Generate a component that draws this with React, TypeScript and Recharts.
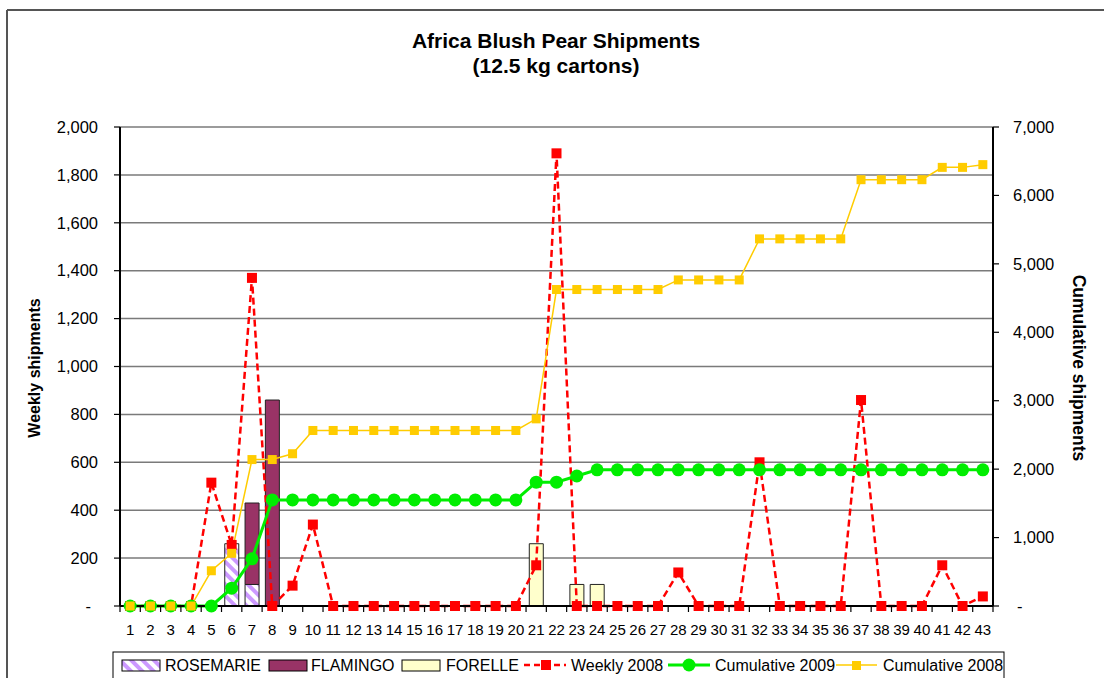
import { Bar, CartesianGrid, ComposedChart, Line, XAxis, YAxis } from 'recharts'

const weeks = [
  '1', '2', '3', '4', '5', '6', '7', '8', '9', '10', '11', '12', '13', '14', '15',
  '16', '17', '18', '19', '20', '21', '22', '23', '24', '25', '26', '27', '28', '29',
  '30', '31', '32', '33', '34', '35', '36', '37', '38', '39', '40', '41', '42', '43',
]

// weekly cartons by variety (2009)
const rosemarie = [0, 0, 0, 0, 0, 260, 90, 0, 0, 0, 0, 0, 0, 0, 0, 0, 0, 0, 0, 0, 0, 0, 0, 0, 0, 0, 0, 0, 0, 0, 0, 0, 0, 0, 0, 0, 0, 0, 0, 0, 0, 0, 0]
const flamingo = [0, 0, 0, 0, 0, 0, 340, 860, 0, 0, 0, 0, 0, 0, 0, 0, 0, 0, 0, 0, 0, 0, 0, 0, 0, 0, 0, 0, 0, 0, 0, 0, 0, 0, 0, 0, 0, 0, 0, 0, 0, 0, 0]
const forelle = [0, 0, 0, 0, 0, 0, 0, 0, 0, 0, 0, 0, 0, 0, 0, 0, 0, 0, 0, 0, 260, 0, 90, 90, 0, 0, 0, 0, 0, 0, 0, 0, 0, 0, 0, 0, 0, 0, 0, 0, 0, 0, 0]

const weekly2008 = [0, 0, 0, 0, 515, 255, 1370, 0, 85, 340, 0, 0, 0, 0, 0, 0, 0, 0, 0, 0, 170, 1890, 0, 0, 0, 0, 0, 140, 0, 0, 0, 600, 0, 0, 0, 0, 860, 0, 0, 0, 170, 0, 40]
const cumulative2009 = [0, 0, 0, 0, 0, 260, 690, 1550, 1550, 1550, 1550, 1550, 1550, 1550, 1550, 1550, 1550, 1550, 1550, 1550, 1810, 1810, 1900, 1990, 1990, 1990, 1990, 1990, 1990, 1990, 1990, 1990, 1990, 1990, 1990, 1990, 1990, 1990, 1990, 1990, 1990, 1990, 1990]
const cumulative2008 = [0, 0, 0, 0, 515, 770, 2140, 2140, 2225, 2565, 2565, 2565, 2565, 2565, 2565, 2565, 2565, 2565, 2565, 2565, 2735, 4625, 4625, 4625, 4625, 4625, 4625, 4765, 4765, 4765, 4765, 5365, 5365, 5365, 5365, 5365, 6230, 6230, 6230, 6230, 6410, 6410, 6450]

const leftTicks = [0, 200, 400, 600, 800, 1000, 1200, 1400, 1600, 1800, 2000]
const rightTicks = [0, 1000, 2000, 3000, 4000, 5000, 6000, 7000]

const data = weeks.map((w, i) => ({
  week: w,
  rosemarie: rosemarie[i],
  flamingo: flamingo[i],
  forelle: forelle[i],
  weekly2008: weekly2008[i],
  cum2009: cumulative2009[i],
  cum2008: cumulative2008[i],
}))

const FONT = "'Liberation Sans', Arial, sans-serif"
const RED = '#ff0000'
const GREEN = '#00ee00'
const GOLD = '#ffcc00'
const PLUM = '#993366'
const CREAM = '#ffffcc'
const STEP = (993 - 120) / 43

const fmt = (v: number) => (v === 0 ? '-' : v.toLocaleString('en-US'))

function LeftTick(props: any) {
  const { x, y, payload } = props
  const v = payload.value
  return (
    <text x={v === 0 ? x - 7 : x} y={y} dy="0.35em" textAnchor="end" fontSize={16.5} fontFamily={FONT} fill="#000">
      {fmt(v)}
    </text>
  )
}

function RightTick(props: any) {
  const { x, y, payload } = props
  const v = payload.value
  return (
    <text x={v === 0 ? x + 4 : x} y={y} dy="0.35em" textAnchor="start" fontSize={16.5} fontFamily={FONT} fill="#000">
      {fmt(v)}
    </text>
  )
}

function WeekTick(props: any) {
  const { x, y, payload, index } = props
  return (
    <g>
      <line x1={x - STEP / 2} x2={x - STEP / 2} y1={y} y2={y + 6} stroke="#000" strokeWidth={1.2} />
      {index === weeks.length - 1 && (
        <line x1={x + STEP / 2} x2={x + STEP / 2} y1={y} y2={y + 6} stroke="#000" strokeWidth={1.2} />
      )}
      <text x={x} y={y + 29} textAnchor="middle" fontSize={15} fontFamily={FONT} fill="#000">
        {payload.value}
      </text>
    </g>
  )
}

const squareDot = (color: string, size: number) => (p: any) => (
  <rect key={`${color}-${p.index}`} x={p.cx - size / 2} y={p.cy - size / 2} width={size} height={size} fill={color} />
)

const circleDot = (p: any) => <circle key={`c-${p.index}`} cx={p.cx} cy={p.cy} r={6.5} fill={GREEN} />

function Overlay() {
  const textY = 671
  return (
    <svg
      width={1104}
      height={678}
      style={{ position: 'absolute', left: 0, top: 0, pointerEvents: 'none' }}
      fontFamily={FONT}
    >
      <defs>
        <pattern id="hatch" patternUnits="userSpaceOnUse" width={8} height={8} patternTransform="rotate(-45)">
          <rect width={8} height={8} fill="#fff" />
          <rect width={4} height={8} fill="#cc99ff" />
        </pattern>
      </defs>
      <line x1={7} y1={10} x2={1104} y2={10} stroke="#555" strokeWidth={2} />
      <line x1={7} y1={10} x2={7} y2={678} stroke="#555" strokeWidth={2} />

      <text x={556} y={48} textAnchor="middle" fontSize={21} fontWeight="bold">
        Africa Blush Pear Shipments
      </text>
      <text x={556} y={73} textAnchor="middle" fontSize={21} fontWeight="bold">
        (12.5 kg cartons)
      </text>

      <text transform="translate(40 368) rotate(-90)" textAnchor="middle" fontSize={16} fontWeight="bold">
        Weekly shipments
      </text>
      <text transform="translate(1073 368) rotate(90)" textAnchor="middle" fontSize={17.5} fontWeight="bold">
        Cumulative shipments
      </text>

      <rect x={113} y={652} width={891} height={40} fill="#fff" stroke="#000" strokeWidth={1} />
      <rect x={122} y={660} width={38} height={11} fill="url(#hatch)" stroke="#000" />
      <text x={165} y={textY} fontSize={16}>ROSEMARIE</text>
      <rect x={269} y={660} width={38} height={11} fill={PLUM} stroke="#000" />
      <text x={311} y={textY} fontSize={16}>FLAMINGO</text>
      <rect x={402} y={660} width={38} height={11} fill={CREAM} stroke="#000" />
      <text x={446} y={textY} fontSize={16}>FORELLE</text>

      <line x1={524} x2={566} y1={665} y2={665} stroke={RED} strokeWidth={2.5} strokeDasharray="6 4" />
      <rect x={541} y={660} width={10} height={10} fill={RED} />
      <text x={571} y={textY} fontSize={16}>Weekly 2008</text>

      <line x1={668} x2={710} y1={665} y2={665} stroke={GREEN} strokeWidth={3} />
      <circle cx={689} cy={665} r={6.5} fill={GREEN} />
      <text x={715} y={textY} fontSize={16}>Cumulative 2009</text>

      <line x1={836} x2={877} y1={665} y2={665} stroke={GOLD} strokeWidth={1.5} />
      <rect x={852} y={661} width={9} height={9} fill={GOLD} />
      <text x={883} y={textY} fontSize={16}>Cumulative 2008</text>
    </svg>
  )
}

export default function App() {
  return (
    <div
      style={{
        position: 'absolute',
        left: 0,
        top: 0,
        width: 1104,
        height: 678,
        overflow: 'hidden',
        background: '#fff',
        fontFamily: FONT,
      }}
    >
      <ComposedChart
        width={1104}
        height={678}
        data={data}
        margin={{ top: 127, right: 0, bottom: 42, left: 0 }}
        barCategoryGap="16%"
      >
        <CartesianGrid yAxisId="left" vertical={false} stroke="#7a7a7a" strokeWidth={1.5} />
        <XAxis
          dataKey="week"
          interval={0}
          height={30}
          tickSize={0}
          tickMargin={0}
          tickLine={false}
          axisLine={{ stroke: '#000', strokeWidth: 2 }}
          tick={<WeekTick />}
        />
        <YAxis
          yAxisId="left"
          width={120}
          domain={[0, 2000]}
          ticks={leftTicks}
          interval={0}
          tickSize={6}
          tickMargin={16}
          axisLine={{ stroke: '#000', strokeWidth: 2 }}
          tickLine={{ stroke: '#000', strokeWidth: 1.2 }}
          tick={<LeftTick />}
        />
        <YAxis
          yAxisId="right"
          orientation="right"
          width={111}
          domain={[0, 7000]}
          ticks={rightTicks}
          interval={0}
          tickSize={6}
          tickMargin={14}
          axisLine={{ stroke: '#000', strokeWidth: 2 }}
          tickLine={{ stroke: '#000', strokeWidth: 1.2 }}
          tick={<RightTick />}
        />
        <Bar yAxisId="left" dataKey="rosemarie" stackId="v" fill="url(#hatch)" stroke="#222" strokeWidth={1} isAnimationActive={false} />
        <Bar yAxisId="left" dataKey="flamingo" stackId="v" fill={PLUM} stroke="#222" strokeWidth={1} isAnimationActive={false} />
        <Bar yAxisId="left" dataKey="forelle" stackId="v" fill={CREAM} stroke="#222" strokeWidth={1} isAnimationActive={false} />
        <Line
          yAxisId="left"
          type="linear"
          dataKey="weekly2008"
          stroke={RED}
          strokeWidth={2.5}
          strokeDasharray="7 4"
          dot={squareDot(RED, 10)}
          activeDot={false}
          isAnimationActive={false}
        />
        <Line
          yAxisId="right"
          type="linear"
          dataKey="cum2009"
          stroke={GREEN}
          strokeWidth={3}
          dot={circleDot}
          activeDot={false}
          isAnimationActive={false}
        />
        <Line
          yAxisId="right"
          type="linear"
          dataKey="cum2008"
          stroke={GOLD}
          strokeWidth={1.5}
          dot={squareDot(GOLD, 9)}
          activeDot={false}
          isAnimationActive={false}
        />
      </ComposedChart>
      <Overlay />
    </div>
  )
}
